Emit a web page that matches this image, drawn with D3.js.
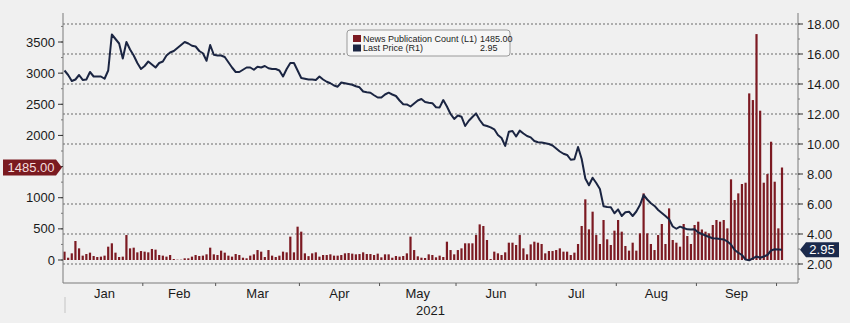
<!DOCTYPE html>
<html>
<head>
<meta charset="utf-8">
<script src="https://cdn.jsdelivr.net/npm/d3@7"></script>
<style>
  html, body { margin: 0; padding: 0; background: #f0f0f0; }
  svg { display: block; }
  text { font-family: "Liberation Sans", Arial, sans-serif; }
</style>
</head>
<body>
<svg id="chart" width="850" height="323"></svg>
<script>
// Daily news publication count (left axis) and last price (right axis), 31 Dec 2020 – 4 Oct 2021, weekdays
const firstDay = "2020-12-31";
const lastDay = "2021-10-04";

const newsCount = [
  134, 37, 107, 305, 187, 70, 96, 118, 64, 48, 54, 70, 214, 268, 118, 48, 54, 401, 187, 198,
  123, 144, 134, 123, 177, 166, 80, 70, 54, 80, 16, 5, 5, 27, 27, 54, 80, 64, 70, 91,
  198, 91, 80, 150, 118, 70, 54, 96, 80, 37, 27, 70, 91, 160, 134, 48, 160, 70, 48, 70,
  134, 123, 375, 123, 535, 455, 107, 62, 107, 123, 54, 80, 80, 91, 70, 70, 80, 107, 112, 102,
  91, 96, 123, 96, 96, 80, 102, 43, 91, 91, 37, 64, 54, 64, 107, 375, 160, 59, 37, 32,
  91, 80, 43, 70, 48, 294, 160, 91, 160, 187, 268, 268, 268, 401, 572, 546, 321, 16, 134, 107,
  80, 123, 278, 278, 241, 401, 187, 91, 251, 294, 278, 257, 107, 144, 144, 160, 187, 134, 134, 80,
  118, 257, 546, 974, 492, 776, 401, 257, 642, 332, 241, 471, 642, 455, 225, 150, 278, 150, 428, 1070,
  428, 257, 160, 401, 578, 257, 829, 321, 278, 214, 578, 385, 257, 562, 615, 490, 455, 428, 562, 642,
  615, 642, 508, 1295, 963, 1070, 1220, 1241, 2675, 2568, 3627, 2397, 1241, 1380, 1899, 1257, 508, 1485
];

const lastPrice = [
  14.90, 14.60, 14.20, 14.30, 14.60, 14.27, 14.30, 14.80, 14.50, 14.50, 14.50, 14.35, 14.90, 17.30, 17.00, 16.70, 15.70, 16.80, 16.30, 15.90,
  15.40, 15.00, 15.20, 15.50, 15.30, 15.10, 15.40, 15.50, 15.90, 16.10, 16.20, 16.40, 16.60, 16.80, 16.70, 16.55, 16.50, 16.20, 16.05, 15.55,
  16.60, 15.95, 15.90, 15.90, 15.80, 15.45, 15.10, 14.80, 14.80, 14.95, 15.10, 15.10, 14.95, 15.15, 15.10, 15.20, 15.05, 15.00, 15.00, 14.90,
  14.50, 15.00, 15.40, 15.40, 14.90, 14.40, 14.35, 14.30, 14.30, 14.27, 14.50, 14.30, 14.15, 14.05, 13.90, 13.82, 14.10, 14.05, 14.00, 13.95,
  13.85, 13.78, 13.50, 13.45, 13.42, 13.25, 13.10, 13.10, 13.30, 13.42, 13.30, 13.20, 12.90, 12.65, 12.64, 12.50, 12.70, 12.90, 13.00, 12.80,
  12.75, 12.72, 12.45, 12.44, 12.93, 12.50, 12.00, 11.67, 11.90, 11.82, 11.20, 11.55, 11.80, 12.04, 11.60, 11.27, 11.20, 11.11, 10.98, 10.60,
  10.40, 9.87, 10.82, 10.87, 10.50, 10.89, 10.70, 10.53, 10.44, 10.20, 10.12, 10.10, 10.05, 10.00, 9.90, 9.70, 9.50, 9.35, 9.27, 8.95,
  8.98, 9.80, 9.00, 7.70, 7.25, 7.75, 7.40, 7.00, 5.85, 5.80, 5.78, 5.38, 5.64, 5.20, 5.45, 5.49, 5.20, 5.50, 5.93, 6.60,
  6.30, 6.05, 5.87, 5.60, 5.40, 5.20, 4.98, 4.50, 4.35, 4.49, 4.40, 4.31, 4.30, 4.31, 4.10, 4.00, 3.90, 3.80, 3.72, 3.70,
  3.66, 3.64, 3.50, 3.30, 2.93, 2.75, 2.60, 2.30, 2.25, 2.38, 2.50, 2.42, 2.50, 2.60, 2.90, 2.98, 2.97, 2.95
];

const leftTicks = [0, 500, 1000, 1500, 2000, 2500, 3000, 3500];
const rightTicks = [2, 4, 6, 8, 10, 12, 14, 16, 18];
const monthNames = ["Jan", "Feb", "Mar", "Apr", "May", "Jun", "Jul", "Aug", "Sep"];
const yearLabel = "2021";
const seriesNames = ["News Publication Count (L1)", "Last Price (R1)"];

const barColor = "#7c1a22";
const lineColor = "#1b2542";

// weekday calendar for the daily series
const parse = d3.timeParse("%Y-%m-%d");
const dates = d3.timeDay.range(parse(firstDay), d3.timeDay.offset(parse(lastDay), 1))
  .filter(d => d.getDay() !== 0 && d.getDay() !== 6);

const svg = d3.select("#chart");
const plot = { left: 63, right: 798, top: 13, bottom: 283 };

const x = d3.scaleLinear().domain([0, dates.length - 1]).range([64.5, 782]);
const yL = d3.scaleLinear().domain([0, 3500]).range([260, 42]);
const yR = d3.scaleLinear().domain([2, 18]).range([264, 24]);

const lastCount = newsCount[newsCount.length - 1];
const lastPx = lastPrice[lastPrice.length - 1];

// dotted grid on the price axis
svg.append("g").selectAll("line").data(rightTicks).join("line")
  .attr("x1", plot.left).attr("x2", plot.right)
  .attr("y1", d => yR(d)).attr("y2", d => yR(d))
  .attr("stroke", "#6a6a6a").attr("stroke-width", 1)
  .attr("stroke-dasharray", "2,2");

// news count bars
svg.append("g").selectAll("rect").data(newsCount).join("rect")
  .attr("x", (d, i) => x(i) - 1.1)
  .attr("width", 2.2)
  .attr("y", d => yL(d))
  .attr("height", d => yL(0) - yL(d))
  .attr("fill", barColor);

// last price line
svg.append("path")
  .datum(lastPrice)
  .attr("fill", "none")
  .attr("stroke", lineColor)
  .attr("stroke-width", 2)
  .attr("stroke-linejoin", "round")
  .attr("d", d3.line().x((d, i) => x(i)).y(d => yR(d)));

// frame: left axis, right axis, bottom
const axisColor = "#7a7a7a";
svg.append("line").attr("x1", plot.left).attr("x2", plot.left).attr("y1", plot.top).attr("y2", plot.bottom)
  .attr("stroke", axisColor);
svg.append("line").attr("x1", plot.right).attr("x2", plot.right).attr("y1", plot.top).attr("y2", plot.bottom)
  .attr("stroke", axisColor);
svg.append("line").attr("x1", plot.left).attr("x2", plot.right).attr("y1", plot.bottom).attr("y2", plot.bottom)
  .attr("stroke", axisColor);

// left axis ticks and labels (a label under the last-value flag is hidden)
const flagY = yL(lastCount);
const leftG = svg.append("g");
leftG.selectAll("line.minor").data(d3.range(0, 3751, 250)).join("line")
  .attr("x1", plot.left - 2).attr("x2", plot.left)
  .attr("y1", d => yL(d)).attr("y2", d => yL(d))
  .attr("stroke", axisColor);
leftG.selectAll("line.major").data(leftTicks).join("line")
  .attr("x1", plot.left - 5).attr("x2", plot.left)
  .attr("y1", d => yL(d)).attr("y2", d => yL(d))
  .attr("stroke", "#333");
leftG.selectAll("text").data(leftTicks.filter(d => Math.abs(yL(d) - flagY) > 14)).join("text")
  .attr("x", plot.left - 8).attr("y", d => yL(d))
  .attr("dy", "0.35em").attr("text-anchor", "end")
  .attr("font-size", 13).attr("fill", "#1a1a1a")
  .text(d => d);

// right axis ticks and labels
const rightG = svg.append("g");
rightG.selectAll("line.minor").data(d3.range(1, 19, 1)).join("line")
  .attr("x1", plot.right).attr("x2", plot.right + 2)
  .attr("y1", d => yR(d)).attr("y2", d => yR(d))
  .attr("stroke", axisColor);
rightG.selectAll("line.major").data(rightTicks).join("line")
  .attr("x1", plot.right).attr("x2", plot.right + 5)
  .attr("y1", d => yR(d)).attr("y2", d => yR(d))
  .attr("stroke", "#333");
rightG.selectAll("text").data(rightTicks).join("text")
  .attr("x", plot.right + 9).attr("y", d => yR(d))
  .attr("dy", "0.35em").attr("text-anchor", "start")
  .attr("font-size", 13).attr("fill", "#1a1a1a")
  .text(d => d3.format(".2f")(d));

// month ticks (first weekday of each month) and centred month labels
const monthStarts = [];
dates.forEach((d, i) => {
  if (i > 0 && d.getMonth() !== dates[i - 1].getMonth()) monthStarts.push(i);
});
const tickXs = monthStarts.map(i => x(i - 0.5));
svg.append("g").selectAll("line").data(tickXs.slice(1)).join("line")
  .attr("x1", d => d).attr("x2", d => d)
  .attr("y1", plot.bottom).attr("y2", plot.bottom + 3)
  .attr("stroke", "#555");
svg.append("g").selectAll("text").data(monthNames).join("text")
  .attr("x", (d, i) => (tickXs[i] + tickXs[i + 1]) / 2)
  .attr("y", 298)
  .attr("text-anchor", "middle")
  .attr("font-size", 13).attr("fill", "#1a1a1a")
  .text(d => d);
svg.append("text")
  .attr("x", (plot.left + plot.right) / 2).attr("y", 315)
  .attr("text-anchor", "middle")
  .attr("font-size", 13).attr("fill", "#1a1a1a")
  .text(yearLabel);
svg.append("line")
  .attr("x1", plot.left + 2).attr("x2", plot.left + 2)
  .attr("y1", 297).attr("y2", 313)
  .attr("stroke", "#c4c4c4");

// last-value flags on both axes
svg.append("path")
  .attr("d", `M3,${flagY - 8} L56,${flagY - 8} L62,${flagY} L56,${flagY + 8} L3,${flagY + 8} Z`)
  .attr("fill", "#7a1a20");
svg.append("text")
  .attr("x", 31).attr("y", flagY).attr("dy", "0.36em")
  .attr("text-anchor", "middle").attr("font-size", 13).attr("fill", "#f4dede")
  .text(d3.format(".2f")(lastCount));
const yp = yR(lastPx);
svg.append("path")
  .attr("d", `M800,${yp} L806,${yp - 7.5} L839,${yp - 7.5} L839,${yp + 7.5} L806,${yp + 7.5} Z`)
  .attr("fill", "#1b2a4c");
svg.append("text")
  .attr("x", 822).attr("y", yp).attr("dy", "0.36em")
  .attr("text-anchor", "middle").attr("font-size", 13).attr("fill", "#ffffff")
  .text(d3.format(".2f")(lastPx));

// legend
const lg = svg.append("g").attr("transform", "translate(347,30)");
lg.append("rect").attr("width", 163).attr("height", 26).attr("rx", 3)
  .attr("fill", "#f6f6f6").attr("stroke", "#9a9a9a");
const legendRows = [
  { name: seriesNames[0], color: barColor, value: d3.format(".2f")(lastCount) },
  { name: seriesNames[1], color: lineColor, value: d3.format(".2f")(lastPx) }
];
legendRows.forEach((r, i) => {
  const cy = 8.5 + i * 9.5;
  lg.append("rect").attr("x", 6).attr("y", cy - 3.5).attr("width", 8).attr("height", 7).attr("fill", r.color);
  lg.append("text").attr("x", 16).attr("y", cy).attr("dy", "0.35em")
    .attr("font-size", 9).attr("fill", "#222").text(r.name);
  lg.append("text").attr("x", 133).attr("y", cy).attr("dy", "0.35em")
    .attr("font-size", 9).attr("fill", "#222").text(r.value);
});
</script>
</body>
</html>
